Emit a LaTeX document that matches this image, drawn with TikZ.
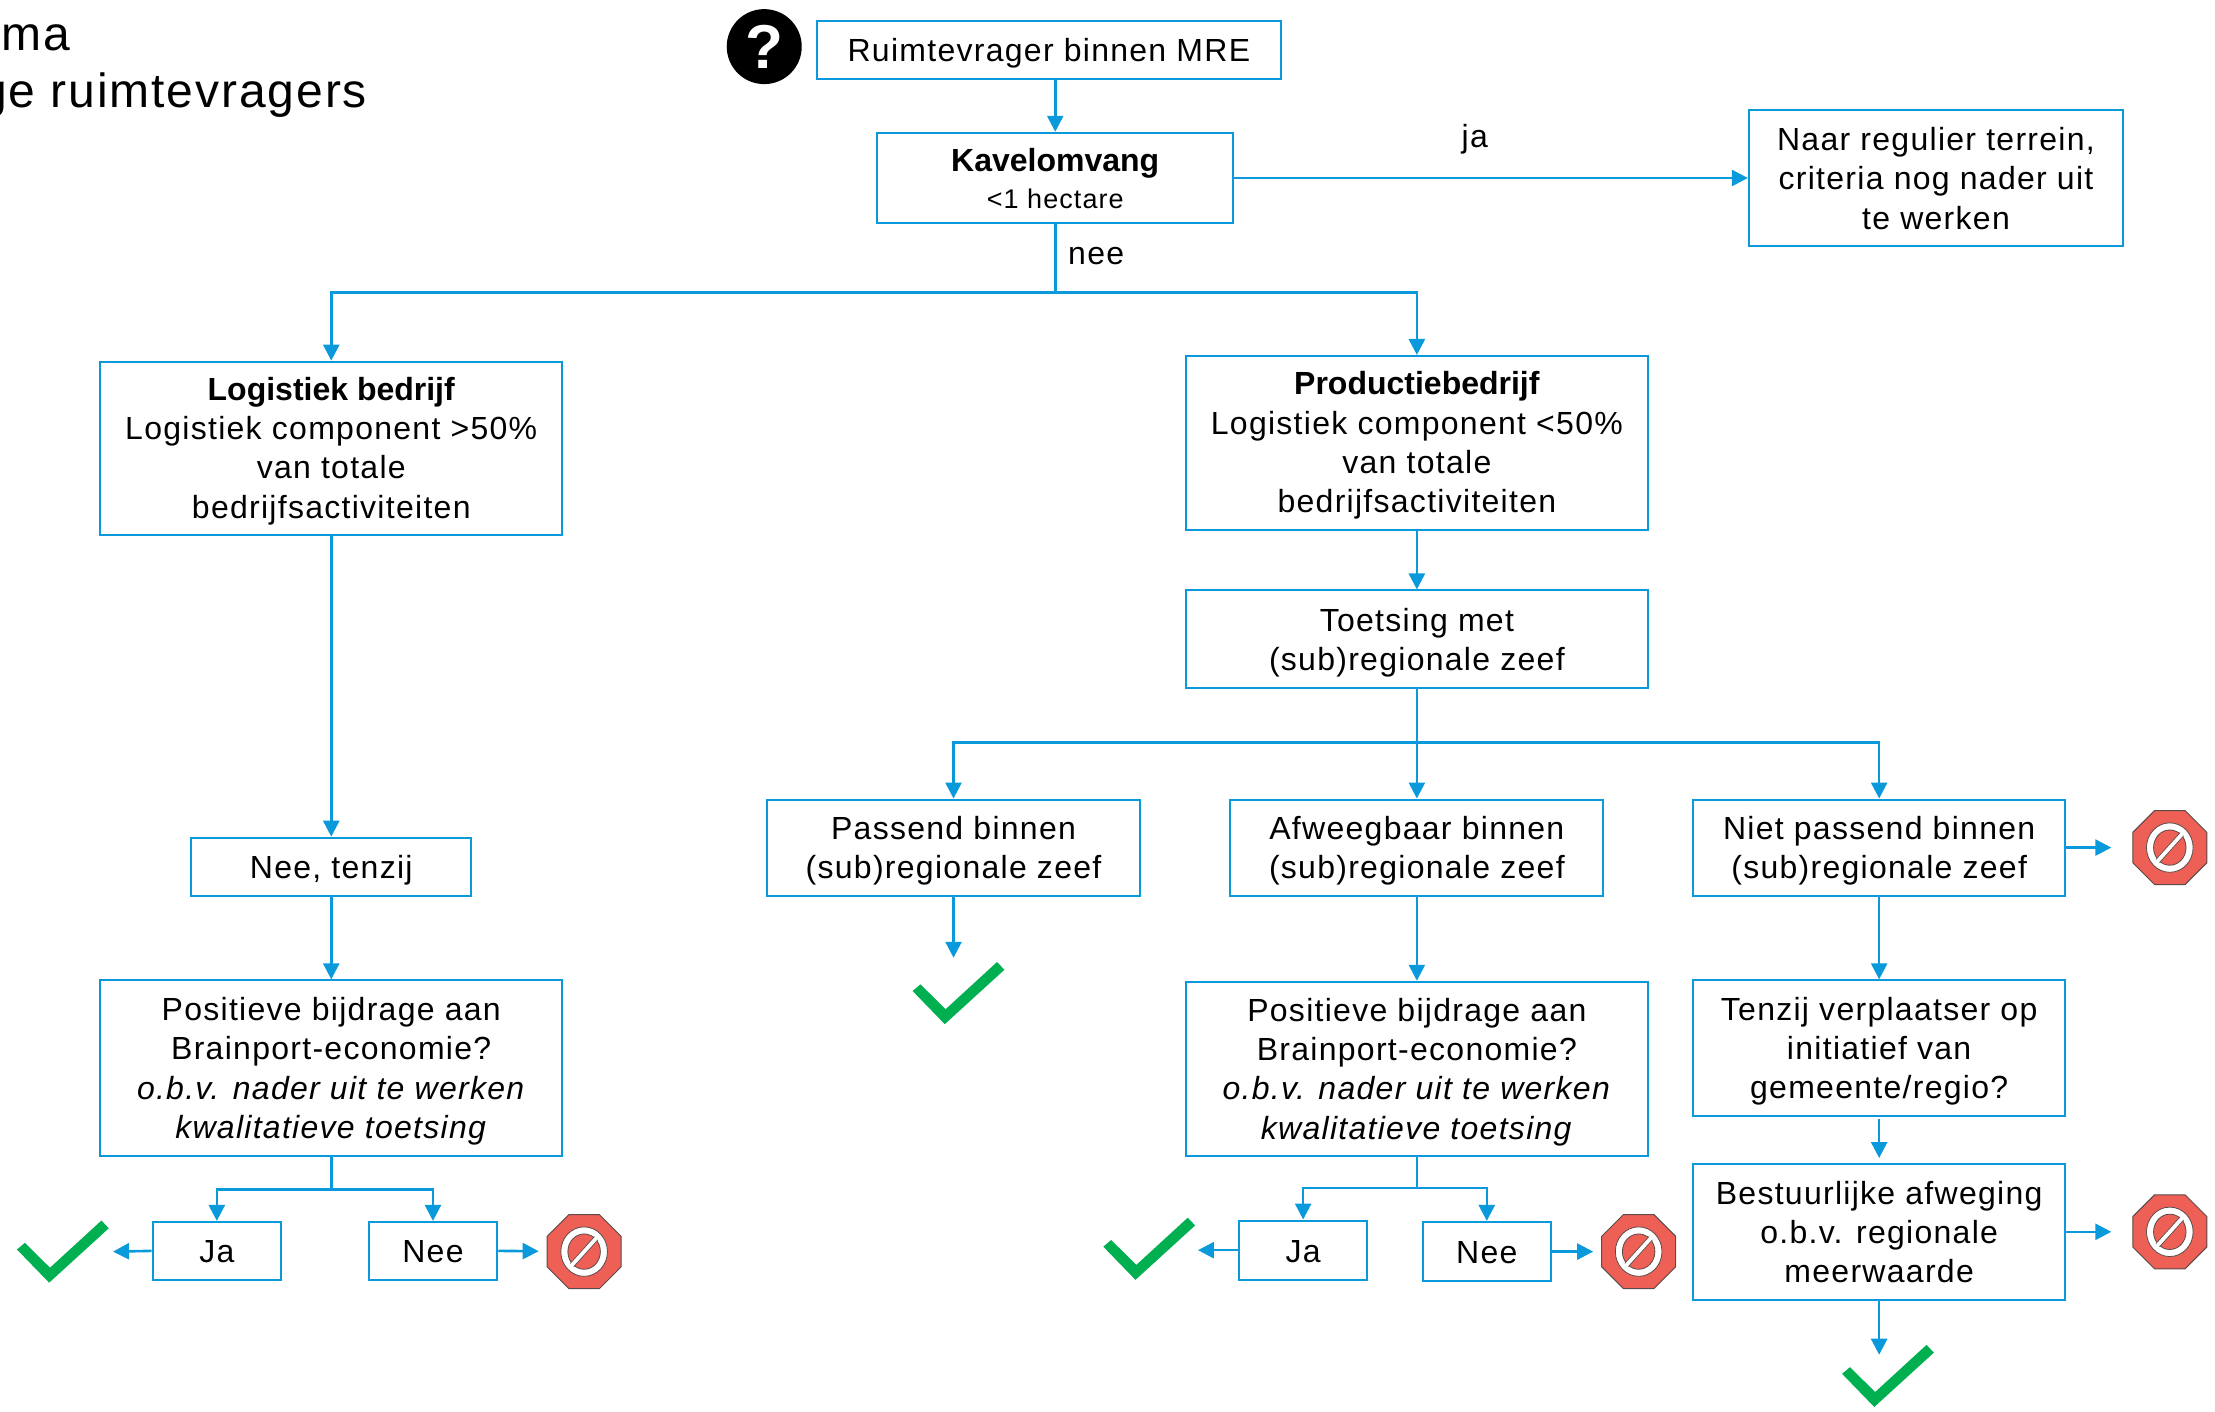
\documentclass[tikz,border=0pt]{standalone}
\usepackage{fontspec}
\setmainfont[LetterSpace=4,BoldFeatures={LetterSpace=0}]{Liberation Sans}
\usetikzlibrary{arrows.meta,shapes.geometric}
\definecolor{flow}{HTML}{0A9ADB}
\definecolor{okgreen}{HTML}{00B050}
\definecolor{stopred}{HTML}{EE6055}
\definecolor{stopedge}{HTML}{5A4A4A}
\tikzset{
  boxnode/.style={draw=flow,line width=2pt,fill=white,align=center,inner sep=0pt,font=\fontsize{32}{39.3}\selectfont},
  arr/.style={draw=flow,line width=2.6pt,-{Triangle[length=16pt,width=16pt]}},
  lin/.style={draw=flow,line width=2.6pt},
  lbl/.style={inner sep=0pt,font=\fontsize{32}{39.3}\selectfont},
  stopsign/.style={regular polygon,regular polygon sides=8,minimum size=80pt,fill=stopred,draw=stopedge,line width=1pt,inner sep=0pt},
}
% box by corners, in the coordinates of the picture; optional downward shift of its text
\newcommand{\bx}[7][0]{%
  \pgfmathsetmacro{\bw}{(#5-#3)*1.4126}%
  \pgfmathsetmacro{\bh}{(#6-#4)*1.4126}%
  \pgfmathsetmacro{\bs}{24+2*#1*1.4126}%
  \node[boxnode,minimum width=\bw pt,minimum height=\bh pt] (#2) at ({(#3+#5)/2},{(#4+#6)/2}) {\rule{0pt}{\bs pt}#7};}
% stop sign centred at a point
\newcommand{\stopat}[3]{%
  \node[stopsign] (#1) at (#2,#3) {};
  \fill[white,draw=stopedge,line width=0.8pt] (#2,#3) ellipse (16.5 and 17.5);
  \fill[stopred,draw=stopedge,line width=0.8pt] (#2,#3) ellipse (11.5 and 12.5);
  \draw[stopedge,line width=5.4pt] (#2-8.5,#3+9.5) -- (#2+8.5,#3-9.5);
  \draw[white,line width=3.8pt] (#2-9.3,#3+10.3) -- (#2+9.3,#3-10.3);}
% check mark from top-left corner of its box
\newcommand{\chk}[2]{%
  \fill[okgreen] (#1+0,#2+20.5) -- (#1+5.6,#2+15.8) -- (#1+23.4,#2+33.4) -- (#1+59.8,#2+0) -- (#1+65,#2+5.5) -- (#1+22.8,#2+44) -- cycle;}
\begin{document}
\begin{tikzpicture}[x=1.4126pt,y=-1.4126pt]
\useasboundingbox (0,0) rectangle (1568,998.87);

\node[inner sep=0pt,anchor=base east,font=\fontsize{48}{50}\selectfont] (t1) at (50,35.5) {ma};
\node[inner sep=0pt,anchor=base east,font=\fontsize{48}{50}\selectfont] (t2) at (260,76) {ge ruimtevragers};

\node[circle,fill=black,minimum size=75pt,inner sep=0pt,text=white,font=\fontsize{62}{62}\bfseries\selectfont] (qm) at (541,33) {?};

\bx[2]{start}{578}{15}{907}{56}{Ruimtevrager binnen MRE}
\bx{kavel}{621}{94}{873}{158}{\textbf{Kavelomvang}\\[-2pt]{\fontsize{27}{34}\selectfont <1 hectare}}
\bx{naar}{1238}{78}{1503}{174}{Naar regulier terrein,\\criteria nog nader uit\\te werken}
\bx[1.5]{log}{71}{256}{398}{379}{\textbf{Logistiek bedrijf}\\Logistiek component >50\%\\van totale\\bedrijfsactiviteiten}
\bx[1.5]{prod}{839.5}{252}{1166.5}{375}{\textbf{Productiebedrijf}\\Logistiek component <50\%\\van totale\\bedrijfsactiviteiten}
\bx[2]{toets}{839.5}{418}{1166.5}{487}{Toetsing met\\(sub)regionale zeef}
\bx[2]{pas}{543}{566}{807}{634}{Passend binnen\\(sub)regionale zeef}
\bx[2]{afw}{871}{566}{1135}{634}{Afweegbaar binnen\\(sub)regionale zeef}
\bx[2]{niet}{1198.5}{566}{1462}{634}{Niet passend binnen\\(sub)regionale zeef}
\bx[2]{tenz}{135.5}{593}{333.5}{634}{Nee, tenzij}
\bx[2]{posa}{71}{694}{398}{818}{Positieve bijdrage aan\\Brainport-economie?\\\textit{o.b.v. nader uit te werken}\\\textit{kwalitatieve toetsing}}
\bx[2]{posb}{839.5}{695}{1166.5}{818}{Positieve bijdrage aan\\Brainport-economie?\\\textit{o.b.v. nader uit te werken}\\\textit{kwalitatieve toetsing}}
\bx[2]{verpl}{1198.5}{694}{1462}{790}{Tenzij verplaatser op\\initiatief van\\gemeente/regio?}
\bx{best}{1198.5}{824}{1462}{920}{Bestuurlijke afweging\\o.b.v. regionale\\meerwaarde}
\bx{jaa}{108}{865}{199}{906}{Ja}
\bx{neea}{261}{865}{352}{906}{Nee}
\bx{jab}{877}{864}{968}{906}{Ja}
\bx{neeb}{1007}{865}{1098}{907}{Nee}

\node[lbl] (lja) at (1044,98.5) {ja};
\node[lbl] (lnee) at (776,181) {nee};

\stopat{sa}{413.5}{886}
\stopat{sb}{1160}{886}
\stopat{sc}{1536}{600}
\stopat{sd}{1536}{872}

\chk{12}{864}
\chk{646}{681}
\chk{781}{862}
\chk{1304}{952}

\coordinate (jmain) at (747,207);
\coordinate (jzeef) at (1003,525.5);
\coordinate (jposa) at (234.5,842);
\coordinate (jposb) at (1003,841);
\coordinate (cka) at (80,886);
\coordinate (ckb) at (848,885);
\coordinate (ckc) at (675,678);
\coordinate (ckd) at (1330.25,959);

\draw[arr] (start.south -| kavel.north) -- (kavel.north);
\draw[arr] (kavel.east) -- (naar.west);
\draw[lin] (kavel.south) -- (jmain);
\draw[arr] (jmain) -| (log.north);
\draw[arr] (jmain) -| (prod.north);
\draw[arr] (log.south) -- (tenz.north);
\draw[arr] (tenz.south) -- (posa.north);
\draw[arr] (prod.south) -- (toets.north);
\draw[lin] (toets.south) -- (jzeef);
\draw[arr] (jzeef) -| (pas.north);
\draw[arr] (jzeef) -- (afw.north);
\draw[arr] (jzeef) -| (niet.north);
\draw[arr] (afw.south) -- (posb.north);
\draw[arr] (pas.south) -- (ckc);
\draw[arr,shorten >=21pt] (niet.east) -- (sc);
\draw[arr] (niet.south) -- (verpl.north);
\draw[arr,shorten >=5pt,shorten <=2pt] (verpl.south) -- (best.north);
\draw[arr,shorten >=21pt] (best.east) -- (sd);
\draw[arr] (best.south) -- (ckd);
\draw[lin] (posa.south) -- (jposa);
\draw[arr] (jposa) -| (jaa.north);
\draw[arr] (jposa) -| (neea.north);
\draw[arr] (jaa.west) -- (cka);
\draw[arr,shorten >=8pt] (neea.east) -- (sa);
\draw[lin] (posb.south) -- (jposb);
\draw[arr] (jposb) -| (jab.north);
\draw[arr] (jposb) -| (neeb.north);
\draw[arr] (jab.west) -- (ckb);
\draw[arr,shorten >=8pt] (neeb.east) -- (sb);
\end{tikzpicture}
\end{document}
